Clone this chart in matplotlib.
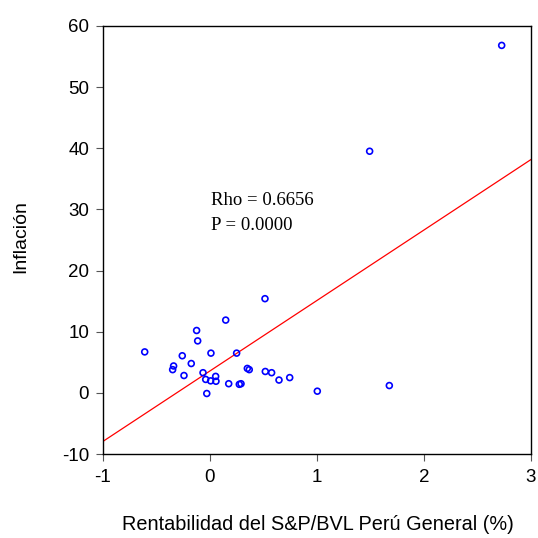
import numpy as np
import matplotlib
matplotlib.use("Agg")
import matplotlib.pyplot as plt

# Rentabilidad del índice (%) vs. inflación
rentabilidad = [2.726, 1.492, 0.514, 0.147, -0.125, -0.115, -0.259, 0.009, 0.249,
                -0.175, -0.340, -0.349, -0.065, -0.243, 0.349, 0.367, 0.517, 0.576,
                0.745, 0.645, -0.040, 0.006, 0.053, 0.056, 0.175, 0.274, 0.290,
                -0.030, 1.003, 1.676, -0.610]
inflacion = [56.8, 39.5, 15.4, 11.9, 10.2, 8.5, 6.07, 6.5, 6.5,
             4.8, 4.4, 3.8, 3.3, 2.84, 4.0, 3.8, 3.5, 3.3,
             2.5, 2.1, 2.2, 1.97, 2.7, 1.9, 1.5, 1.4, 1.5,
             -0.1, 0.28, 1.2, 6.7]

x_ticks = [-1, 0, 1, 2, 3]
y_ticks = [-10, 0, 10, 20, 30, 40, 50, 60]
rho_text = "Rho = 0.6656"
p_text = "P = 0.0000"

plt.rcParams['font.family'] = ['Liberation Sans', 'DejaVu Sans']
plt.rcParams['axes.unicode_minus'] = False

fig = plt.figure(figsize=(5.38, 5.38), dpi=100)
ax = fig.add_axes([0.1914, 0.156, 0.7956, 0.796])

x = np.array(rentabilidad)
y = np.array(inflacion)
slope, intercept = np.polyfit(x, y, 1)
xl = np.array([-1, 3])
ax.plot(xl, intercept + slope * xl, color='red', lw=0.9, zorder=2)

ax.scatter(x, y, s=18, facecolors='none', edgecolors='#0000ff', linewidths=1.2, zorder=3)

ax.set_xlim(-1, 3)
ax.set_ylim(-10, 60)
ax.set_xticks(x_ticks)
ax.set_yticks(y_ticks)
ax.tick_params(direction='out', length=5, width=0.8, labelsize=13.5, color='#555555')
ax.tick_params(axis='x', pad=6)
ax.tick_params(axis='y', pad=5)
for s in ax.spines.values():
    s.set_linewidth(1.0)
    s.set_color('black')

ax.text(0.01, 31.5, rho_text, fontsize=13.5, family='Liberation Serif', va='center', ha='left')
ax.text(0.01, 27.4, p_text, fontsize=13.5, family='Liberation Serif', va='center', ha='left')

fig.text(318 / 538, 1 - 524 / 538, "Rentabilidad del S&P/BVL Perú General (%)",
         ha='center', va='center', fontsize=14.3)
fig.text(21 / 538, 1 - 237 / 538, "Inflación", ha='center', va='center',
         rotation=90, fontsize=14)

fig.savefig("out.png", dpi=100)
